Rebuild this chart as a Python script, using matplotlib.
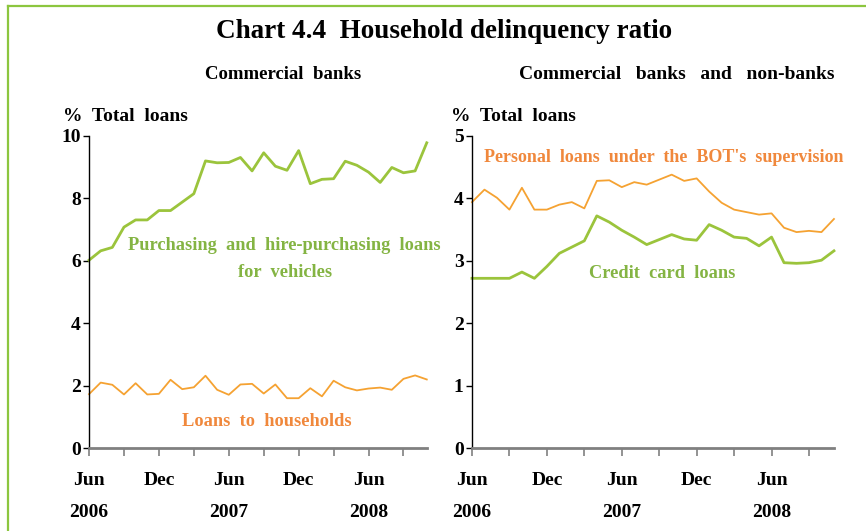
import numpy as np
import matplotlib.pyplot as plt
from matplotlib.lines import Line2D

plt.rcParams['font.family'] = ['Liberation Serif', 'DejaVu Serif']
plt.rcParams['font.weight'] = 'bold'

# monthly, Jun 2006 .. Nov 2008
months = np.arange(30)
tick_pos = [0, 3, 6, 9, 12, 15, 18, 21, 24, 27]
month_labels = {0: 'Jun', 6: 'Dec', 12: 'Jun', 18: 'Dec', 24: 'Jun'}
year_labels = {0: '2006', 12: '2007', 24: '2008'}

# commercial banks
vehicles = [6.02, 6.32, 6.43, 7.08, 7.31, 7.31, 7.61, 7.61, 7.88, 8.15,
            9.20, 9.14, 9.15, 9.31, 8.88, 9.46, 9.03, 8.90, 9.53, 8.47,
            8.61, 8.63, 9.19, 9.06, 8.84, 8.51, 8.99, 8.82, 8.88, 9.78]
households = [1.73, 2.10, 2.03, 1.72, 2.08, 1.72, 1.74, 2.19, 1.89, 1.95,
              2.32, 1.87, 1.71, 2.04, 2.06, 1.75, 2.04, 1.60, 1.60, 1.92,
              1.66, 2.16, 1.95, 1.85, 1.91, 1.94, 1.87, 2.22, 2.33, 2.20]

# commercial banks and non-banks
personal = [3.94, 4.14, 4.01, 3.82, 4.17, 3.82, 3.82, 3.90, 3.94, 3.84,
            4.28, 4.29, 4.18, 4.26, 4.22, 4.30, 4.38, 4.28, 4.32, 4.11,
            3.93, 3.82, 3.78, 3.74, 3.76, 3.53, 3.46, 3.48, 3.46, 3.67]
credit_card = [2.72, 2.72, 2.72, 2.72, 2.82, 2.72, 2.91, 3.12, 3.22, 3.32,
               3.72, 3.62, 3.49, 3.38, 3.26, 3.34, 3.42, 3.35, 3.33, 3.58,
               3.49, 3.38, 3.36, 3.24, 3.38, 2.97, 2.96, 2.97, 3.01, 3.16]

GREEN = '#9BC43C'
GREEN_TXT = '#84B443'
ORANGE = '#F5A232'
ORANGE_TXT = '#F0883C'

fig = plt.figure(figsize=(8.66, 5.31), dpi=100)

# green frame top/left
fig.add_artist(Line2D([0.0095, 0.0095], [0, 0.989], transform=fig.transFigure, color='#8CC63F', lw=1.6))
fig.add_artist(Line2D([0.0095, 1.0], [0.989, 0.989], transform=fig.transFigure, color='#8CC63F', lw=1.6))

fig.text(0.513, 0.94, 'Chart 4.4  Household delinquency ratio', ha='center', va='center', fontsize=19.5, fontweight='bold')
fig.text(0.327, 0.859, 'Commercial  banks', ha='center', va='center', fontsize=13.5)
fig.text(0.782, 0.859, 'Commercial   banks   and   non-banks', ha='center', va='center', fontsize=14)
fig.text(0.073, 0.781, '%  Total  loans', ha='left', va='center', fontsize=14)
fig.text(0.521, 0.781, '%  Total  loans', ha='left', va='center', fontsize=14)


def style(ax, top, step):
    ax.set_xlim(0, 29)
    ax.set_ylim(0, top)
    ax.set_yticks(np.arange(0, top + 0.1, step))
    ax.set_yticklabels([str(int(v)) for v in np.arange(0, top + 0.1, step)], fontsize=14, fontweight='bold')
    for s in ['top', 'right']:
        ax.spines[s].set_visible(False)
    ax.spines['left'].set_linewidth(1.0)
    ax.spines['bottom'].set_color('#808080')
    ax.spines['bottom'].set_linewidth(2.0)
    ax.set_xticks(tick_pos)
    ax.set_xticklabels([])
    ax.tick_params(axis='x', direction='out', length=6, width=1.2, color='#808080')
    ax.tick_params(axis='y', direction='out', length=4, width=1.0, pad=2)
    ax.patch.set_alpha(0)
    for p, lab in month_labels.items():
        ax.annotate(lab, (p, 0), xycoords=('data', 'axes fraction'), xytext=(0, -23.5),
                    textcoords='offset points', ha='center', va='center', fontsize=14)
    for p, lab in year_labels.items():
        ax.annotate(lab, (p, 0), xycoords=('data', 'axes fraction'), xytext=(0, -46),
                    textcoords='offset points', ha='center', va='center', fontsize=14)


ax1 = fig.add_axes([0.1028, 0.156, 0.390, 0.588])
ax1.plot(months, vehicles, color=GREEN, lw=2.0, clip_on=False)
ax1.plot(months, households, color=ORANGE, lw=1.3, clip_on=False)
style(ax1, 10, 2)
ax1.text(16.8, 6.5, 'Purchasing  and  hire-purchasing  loans', color=GREEN_TXT, ha='center', va='center', fontsize=13.2)
ax1.text(16.8, 5.64, 'for  vehicles', color=GREEN_TXT, ha='center', va='center', fontsize=13.2)
ax1.text(15.3, 0.87, 'Loans  to  households', color=ORANGE_TXT, ha='center', va='center', fontsize=13.2)

ax2 = fig.add_axes([0.545, 0.156, 0.418, 0.588])
ax2.plot(months, personal, color=ORANGE, lw=1.3, clip_on=False)
ax2.plot(months, credit_card, color=GREEN, lw=2.0, clip_on=False)
style(ax2, 5, 1)
ax2.text(15.4, 4.66, "Personal  loans  under  the  BOT's  supervision", color=ORANGE_TXT, ha='center', va='center', fontsize=13.0)
ax2.text(15.2, 2.80, 'Credit  card  loans', color=GREEN_TXT, ha='center', va='center', fontsize=13.2)

fig.savefig('out.png', dpi=100)
